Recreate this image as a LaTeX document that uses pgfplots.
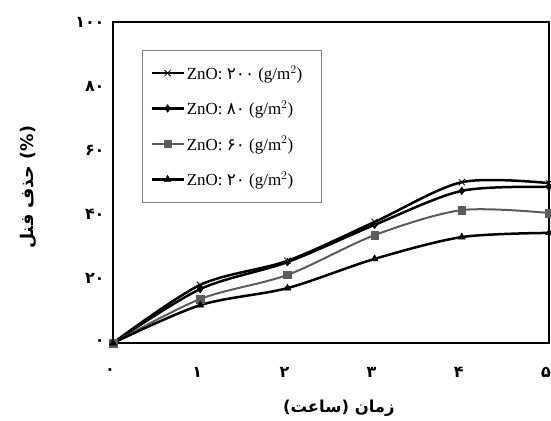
\documentclass[border=0pt]{standalone}
\usepackage{pgfplots}
\pgfplotsset{compat=1.18}
\usepackage{fontspec}
\setmainfont{Liberation Serif}
\newfontfamily\arabicfont[Script=Arabic]{DejaVu Sans}
\TeXXeTstate=1
\definecolor{grayline}{HTML}{5C5C5C}
\begin{document}
\begin{tikzpicture}
\path[use as bounding box] (-113bp,-78bp) rectangle (438bp,343bp);
\begin{axis}[
  at={(0,0)}, anchor=south west,
  scale only axis, width=436bp, height=321bp,
  xmin=0, xmax=5, ymin=0, ymax=100,
  xtick={0,1,2,3,4,5}, ytick={0,20,40,60,80,100},
  xticklabels={۰,۱,۲,۳,۴,۵},
  yticklabels={۰,۲۰,۴۰,۶۰,۸۰,۱۰۰},
  major tick length=0pt,
  axis line style={line width=2bp},
  tick label style={font=\arabicfont\bfseries\fontsize{16}{18}\selectfont},
  xticklabel style={anchor=center, yshift=-29bp, xshift=-3bp},
  yticklabel style={anchor=east, xshift=-5bp},
  xlabel={\beginR زمان (ساعت)\endR},
  ylabel={\beginR حذف فنل\endR\ (\%)},
  xlabel style={at={(axis description cs:0.518,-0.2025)}, anchor=center, font=\arabicfont\bfseries\fontsize{16.5}{18}\selectfont},
  ylabel style={at={(axis description cs:-0.195,0.485)}, anchor=center, font=\arabicfont\bfseries\fontsize{17.5}{19}\selectfont},
  clip=false,
  legend cell align=left,
  legend style={at={(axis description cs:0.0665,0.9128)}, anchor=north west,
    draw=gray, line width=0.7bp, inner xsep=8bp, inner ysep=13bp, row sep=16bp,
    font=\fontsize{17}{19}\selectfont},
  legend image code/.code={\draw[mark repeat=2,mark phase=2] plot coordinates {(0bp,0bp) (16bp,0bp) (32bp,0bp)};},
  every axis plot/.append style={smooth, tension=0.5},
]
\addplot[black, line width=2.5bp, mark=x, mark size=4.5bp, mark options={line width=0.8bp}] coordinates {(0,0) (1,18.1) (2,25.6) (3,37.7) (4,50.1) (5,49.8)};
\addlegendentry{ZnO: {\arabicfont ۲۰۰} (g/m$^2$)\hspace*{9bp}}
\addplot[black, line width=2.5bp, mark=diamond*, mark size=3.8bp, mark options={line width=0.5bp}] coordinates {(0,0) (1,16.8) (2,25.2) (3,36.8) (4,47.4) (5,48.6)};
\addlegendentry{ZnO: {\arabicfont ۸۰} (g/m$^2$)}
\addplot[grayline, line width=2bp, mark=square*, mark size=3.8bp, mark options={line width=0.5bp}] coordinates {(0,0) (1,13.7) (2,21.2) (3,33.6) (4,41.4) (5,40.5)};
\addlegendentry{ZnO: {\arabicfont ۶۰} (g/m$^2$)}
\addplot[black, line width=2.5bp, mark=triangle*, mark size=4bp, mark options={line width=0.5bp}] coordinates {(0,0) (1,11.8) (2,17.1) (3,26.2) (4,33.0) (5,34.3)};
\addlegendentry{ZnO: {\arabicfont ۲۰} (g/m$^2$)}
\end{axis}
\end{tikzpicture}
\end{document}
